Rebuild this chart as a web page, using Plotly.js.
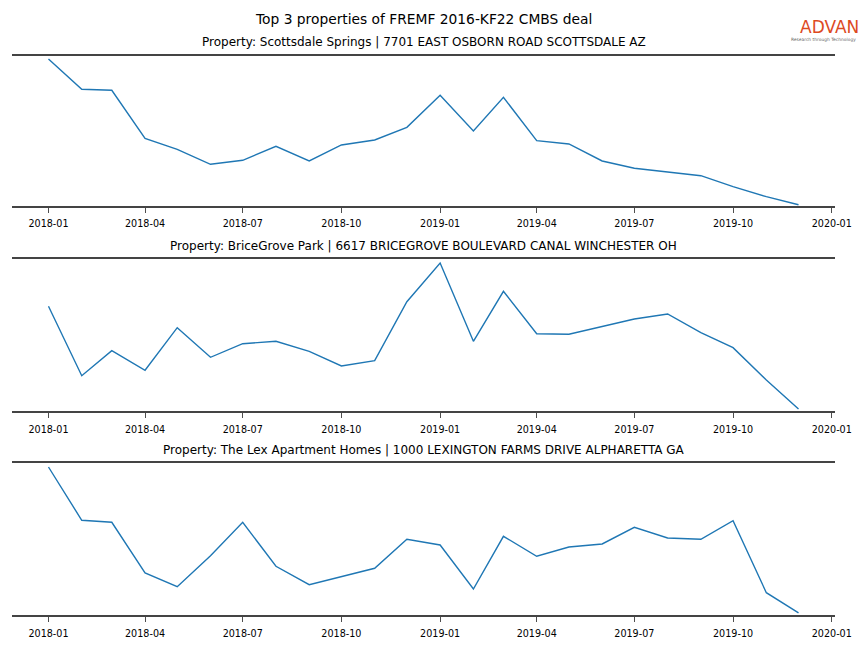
<!DOCTYPE html>
<html>
<head>
<meta charset="utf-8">
<script src="https://cdn.plot.ly/plotly-3.0.1.min.js"></script>
<style>html,body{margin:0;padding:0;background:#fff;}#chart{width:864px;height:648px;}</style>
</head>
<body>
<div id="chart"></div>
<script>
const months = ["2018-01-01","2018-02-01","2018-03-01","2018-04-01","2018-05-01","2018-06-01",
  "2018-07-01","2018-08-01","2018-09-01","2018-10-01","2018-11-01","2018-12-01",
  "2019-01-01","2019-02-01","2019-03-01","2019-04-01","2019-05-01","2019-06-01",
  "2019-07-01","2019-08-01","2019-09-01","2019-10-01","2019-11-01","2019-12-01"];

const scottsdaleSprings = [147, 116.7, 115.7, 67.7, 56.7, 41.7, 45.7, 59.7, 45, 61, 66, 78.7,
  110.7, 75, 108.7, 65.3, 62, 45, 37.7, 34, 30.3, 19.3, 9.3, 1.3];
const briceGrovePark = [105.2, 35.8, 60.8, 41.2, 83.8, 54.2, 67.8, 70.2, 60.2, 45.5, 50.8, 109.8,
  148.5, 70.2, 120.2, 77.8, 77.2, 84.8, 92.5, 97.5, 78.8, 63.8, 31.5, 2.5];
const lexApartments = [148.5, 95.2, 93.2, 42.5, 28.8, 59.8, 93.2, 49.2, 30.8, 38.8, 47.2, 76.2,
  70.5, 26.5, 79.2, 59.2, 68.5, 71.5, 88.2, 77.5, 76.2, 94.8, 22.8, 2.5];

const subplotTitles = [
  "Property: Scottsdale Springs | 7701 EAST OSBORN ROAD SCOTTSDALE AZ",
  "Property: BriceGrove Park | 6617 BRICEGROVE BOULEVARD CANAL WINCHESTER OH",
  "Property: The Lex Apartment Homes | 1000 LEXINGTON FARMS DRIVE ALPHARETTA GA"
];
const mainTitle = "Top 3 properties of FREMF 2016-KF22 CMBS deal";
const logoText = "ADVAN";
const logoTagline = "Research through Technology";
const tickVals = ["2018-01-01","2018-04-01","2018-07-01","2018-10-01","2019-01-01",
  "2019-04-01","2019-07-01","2019-10-01","2020-01-01"];
const tickText = ["2018-01","2018-04","2018-07","2018-10","2019-01","2019-04","2019-07","2019-10","2020-01"];

const series = [scottsdaleSprings, briceGrovePark, lexApartments];
const yRanges = [[0, 150], [0, 152.5], [0, 152.5]];
const domains = [[0.6821, 0.9136], [0.3650, 0.6003], [0.0502, 0.2855]];

const traces = series.map((s, i) => ({
  x: months, y: s, type: 'scatter', mode: 'lines',
  line: {color: '#1f77b4', width: 1.4},
  xaxis: i === 0 ? 'x' : 'x' + (i + 1),
  yaxis: i === 0 ? 'y' : 'y' + (i + 1),
  hoverinfo: 'skip', showlegend: false
}));

const font = {family: 'DejaVu Sans, sans-serif', color: '#000'};
const W = 823;
const layout = {
  width: 864, height: 648,
  margin: {l: 12, r: 29, t: 0, b: 0},
  paper_bgcolor: '#fff', plot_bgcolor: '#fff',
  font: font,
  showlegend: false,
  annotations: [
    {text: mainTitle, xref: 'paper', yref: 'paper', x: 0.5, y: 1 - 19/648, xanchor: 'center', yanchor: 'middle',
     showarrow: false, font: {family: 'DejaVu Sans, sans-serif', size: 13.8, color: '#000'}},
    {text: logoText, xref: 'paper', yref: 'paper', x: (860 - 12)/W, y: 1 - 26.5/648, xanchor: 'right', yanchor: 'middle',
     showarrow: false, borderpad: 0, font: {family: 'DejaVu Sans, sans-serif', size: 17, color: '#DD4A1F', weight: 500}},
    {text: logoTagline, xref: 'paper', yref: 'paper', x: (857 - 12)/W, y: 1 - 39/648,
     xanchor: 'right', yanchor: 'middle', showarrow: false, borderpad: 0,
     font: {family: 'DejaVu Sans, sans-serif', size: 4.4, color: '#666'}}
  ]
};
const titleY = [42, 246, 450];
for (let i = 0; i < 3; i++) {
  const xa = i === 0 ? 'xaxis' : 'xaxis' + (i + 1);
  const ya = i === 0 ? 'yaxis' : 'yaxis' + (i + 1);
  layout[xa] = {
    type: 'date', range: ['2017-11-28', '2020-01-04'],
    anchor: i === 0 ? 'y' : 'y' + (i + 1),
    tickvals: tickVals, ticktext: tickText,
    showgrid: false, zeroline: false,
    showline: true, mirror: true, linecolor: '#444', linewidth: 1.6,
    ticks: 'outside', ticklen: 5, tickwidth: 0.8, tickcolor: '#222',
    ticklabelstandoff: 3,
    tickfont: {family: 'DejaVu Sans, sans-serif', size: 9.6, color: '#000'},
    fixedrange: true
  };
  layout[ya] = {
    domain: domains[i], range: yRanges[i],
    anchor: i === 0 ? 'x' : 'x' + (i + 1),
    showgrid: false, zeroline: false, showline: false, showticklabels: false, ticks: '',
    fixedrange: true
  };
  layout.annotations.push({
    text: subplotTitles[i], xref: 'paper', yref: 'paper', x: 0.5, y: 1 - titleY[i]/648,
    xanchor: 'center', yanchor: 'middle', showarrow: false,
    font: {family: 'DejaVu Sans, sans-serif', size: 12, color: '#000'}
  });
}

Plotly.newPlot('chart', traces, layout, {displayModeBar: false, staticPlot: true});
</script>
</body>
</html>
